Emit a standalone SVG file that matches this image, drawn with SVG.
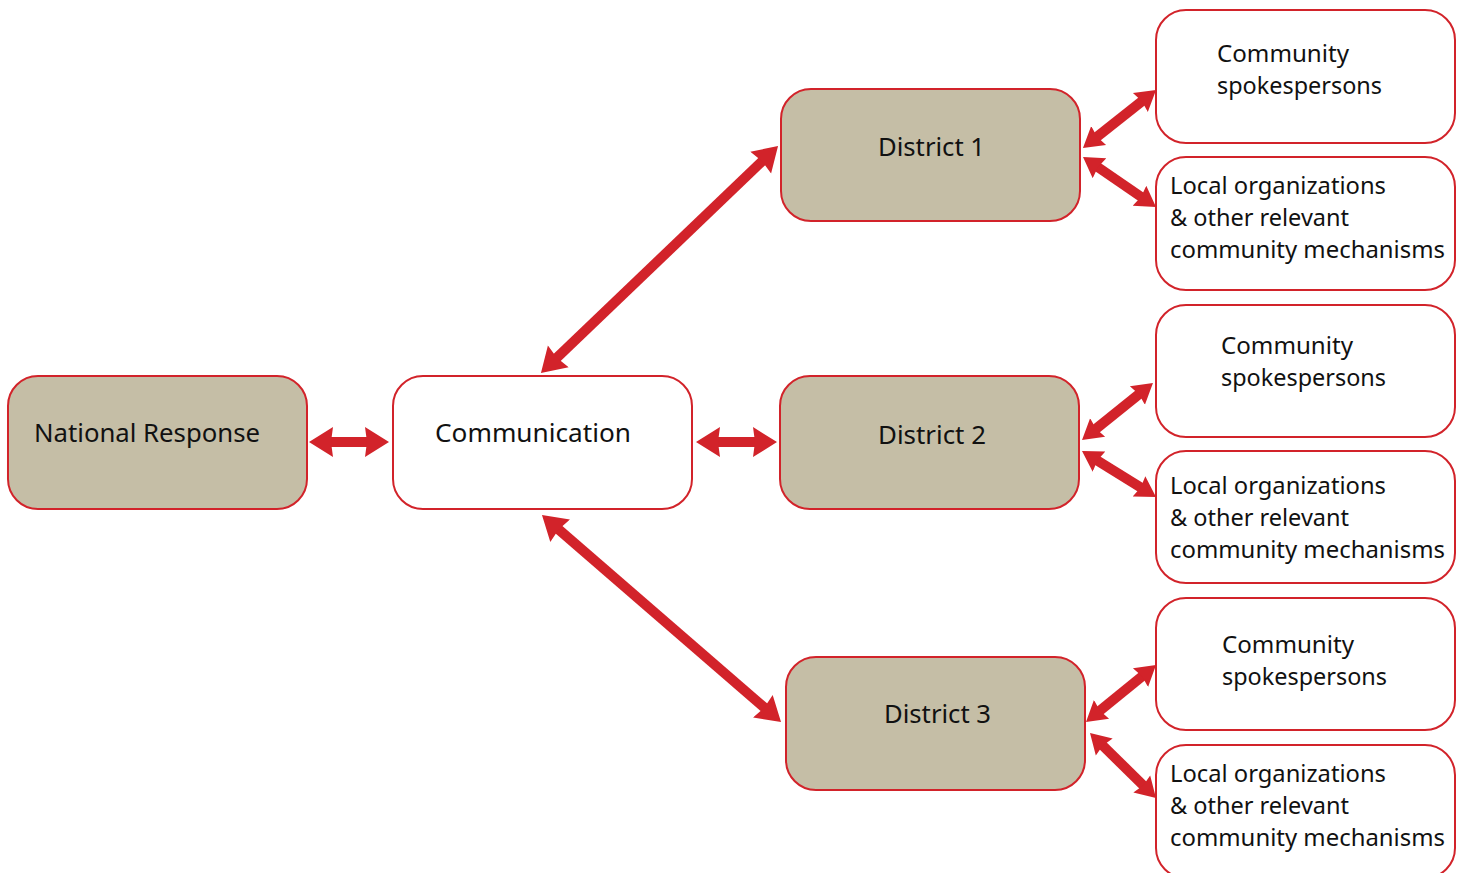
<svg xmlns="http://www.w3.org/2000/svg" width="1463" height="873" viewBox="0 0 1463 873">
<style>
.box{stroke:#d2232a;stroke-width:2}
.tan{fill:#c5bea6}
.wht{fill:#ffffff}
.t{font-family:"Noto Sans","Open Sans",sans-serif;font-size:26px;fill:#111}
.s{font-family:"Noto Sans","Open Sans",sans-serif;font-size:23.5px;fill:#111}
.a{stroke:#d2232a;stroke-width:10;fill:none}
</style>
<defs>
<marker id="hb" markerUnits="userSpaceOnUse" viewBox="0 -16 26 32" markerWidth="26" markerHeight="32" refX="4" refY="0" orient="auto-start-reverse">
<path d="M0,-15 L24,0 L0,15 L2,0 z" fill="#d2232a"/>
</marker>
<marker id="hs" markerUnits="userSpaceOnUse" viewBox="0 -13 22 26" markerWidth="22" markerHeight="26" refX="4" refY="0" orient="auto-start-reverse">
<path d="M0,-12 L20,0 L0,12 L2,0 z" fill="#d2232a"/>
</marker>
</defs>
<rect width="1463" height="873" fill="#fff"/>
<g id="connectors">
<line class="a" x1="329" y1="442" x2="369" y2="442" marker-start="url(#hb)" marker-end="url(#hb)"/>
<line class="a" x1="716" y1="442" x2="757" y2="442" marker-start="url(#hb)" marker-end="url(#hb)"/>
<line class="a" x1="555.4" y1="359.2" x2="763.6" y2="159.8" marker-start="url(#hb)" marker-end="url(#hb)"/>
<line class="a" x1="557.1" y1="528.1" x2="765.9" y2="708.9" marker-start="url(#hb)" marker-end="url(#hb)"/>
<line class="a" x1="1095.5" y1="138" x2="1143.5" y2="100" marker-start="url(#hs)" marker-end="url(#hs)"/>
<line class="a" x1="1096.2" y1="166" x2="1142.8" y2="198" marker-start="url(#hs)" marker-end="url(#hs)"/>
<line class="a" x1="1094.5" y1="430" x2="1140.5" y2="393" marker-start="url(#hs)" marker-end="url(#hs)"/>
<line class="a" x1="1095.6" y1="459.5" x2="1142.4" y2="488.5" marker-start="url(#hs)" marker-end="url(#hs)"/>
<line class="a" x1="1098.4" y1="711.9" x2="1143.6" y2="675.1" marker-start="url(#hs)" marker-end="url(#hs)"/>
<line class="a" x1="1101.4" y1="744.2" x2="1144.6" y2="786.8" marker-start="url(#hs)" marker-end="url(#hs)"/>
</g>
<g id="national">
<rect class="box tan" x="8" y="376" width="299" height="133" rx="30"/>
<text class="t" x="34" y="442" textLength="226" lengthAdjust="spacingAndGlyphs">National Response</text>
</g>
<g id="communication">
<rect class="box wht" x="393" y="376" width="299" height="133" rx="30"/>
<text class="t" x="435" y="442" textLength="196" lengthAdjust="spacingAndGlyphs">Communication</text>
</g>
<g id="district1">
<rect class="box tan" x="781" y="89" width="299" height="132" rx="30"/>
<text class="t" x="878" y="156" textLength="107" lengthAdjust="spacingAndGlyphs">District 1</text>
</g>
<g id="district2">
<rect class="box tan" x="780" y="376" width="299" height="133" rx="30"/>
<text class="t" x="878" y="444" textLength="108" lengthAdjust="spacingAndGlyphs">District 2</text>
</g>
<g id="district3">
<rect class="box tan" x="786" y="657" width="299" height="133" rx="30"/>
<text class="t" x="884" y="723" textLength="107" lengthAdjust="spacingAndGlyphs">District 3</text>
</g>
<g id="spokes1">
<rect class="box wht" x="1156" y="10" width="299" height="133" rx="30"/>
<text class="s" x="1217" y="62" textLength="132" lengthAdjust="spacingAndGlyphs">Community</text>
<text class="s" x="1217" y="94" textLength="165" lengthAdjust="spacingAndGlyphs">spokespersons</text>
</g>
<g id="local1">
<rect class="box wht" x="1156" y="157" width="299" height="133" rx="30"/>
<text class="s" x="1170" y="194" textLength="216" lengthAdjust="spacingAndGlyphs">Local organizations</text>
<text class="s" x="1170" y="226" textLength="179" lengthAdjust="spacingAndGlyphs">&amp; other relevant</text>
<text class="s" x="1170" y="258" textLength="275" lengthAdjust="spacingAndGlyphs">community mechanisms</text>
</g>
<g id="spokes2">
<rect class="box wht" x="1156" y="305" width="299" height="132" rx="30"/>
<text class="s" x="1221" y="354" textLength="132" lengthAdjust="spacingAndGlyphs">Community</text>
<text class="s" x="1221" y="386" textLength="165" lengthAdjust="spacingAndGlyphs">spokespersons</text>
</g>
<g id="local2">
<rect class="box wht" x="1156" y="451" width="299" height="132" rx="30"/>
<text class="s" x="1170" y="494" textLength="216" lengthAdjust="spacingAndGlyphs">Local organizations</text>
<text class="s" x="1170" y="526" textLength="179" lengthAdjust="spacingAndGlyphs">&amp; other relevant</text>
<text class="s" x="1170" y="558" textLength="275" lengthAdjust="spacingAndGlyphs">community mechanisms</text>
</g>
<g id="spokes3">
<rect class="box wht" x="1156" y="598" width="299" height="132" rx="30"/>
<text class="s" x="1222" y="653" textLength="132" lengthAdjust="spacingAndGlyphs">Community</text>
<text class="s" x="1222" y="685" textLength="165" lengthAdjust="spacingAndGlyphs">spokespersons</text>
</g>
<g id="local3">
<rect class="box wht" x="1156" y="745" width="299" height="133" rx="30"/>
<text class="s" x="1170" y="782" textLength="216" lengthAdjust="spacingAndGlyphs">Local organizations</text>
<text class="s" x="1170" y="814" textLength="179" lengthAdjust="spacingAndGlyphs">&amp; other relevant</text>
<text class="s" x="1170" y="846" textLength="275" lengthAdjust="spacingAndGlyphs">community mechanisms</text>
</g>
</svg>
